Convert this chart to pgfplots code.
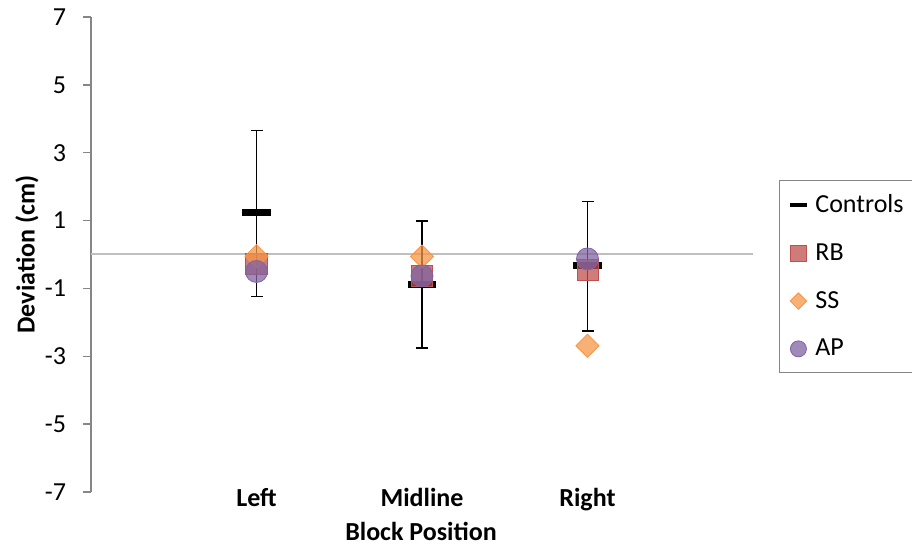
\documentclass[border=0pt]{standalone}
\usepackage{pgfplots}
\pgfplotsset{compat=1.18}
\usepackage{fontspec}
\setmainfont{Carlito}
\definecolor{rbc}{HTML}{C0504D}
\definecolor{ssc}{HTML}{F79646}
\definecolor{apc}{HTML}{8064A2}
\definecolor{axc}{RGB}{134,134,134}
\newcommand{\fs}{\fontsize{13}{15.6}\selectfont}
\newcommand{\lent}[1]{\hspace*{1pt}#1}
\begin{document}
\begin{tikzpicture}
\useasboundingbox (-45.5pt,-28pt) rectangle (410.5pt,246pt);
\begin{axis}[
 at={(0,0)}, anchor=south west,
 scale only axis, width=331pt, height=237.5pt,
 xmin=0, xmax=4, ymin=-7, ymax=7,
 axis x line*=bottom, axis y line*=left,
 x axis line style={draw=none},
 y axis line style={draw=axc, line width=0.75pt},
 xtick={1,2,3}, xticklabels={Left,Midline,Right},
 x tick label style={font=\fs\bfseries, anchor=base, inner sep=0pt, yshift=-3.25pt},
 major x tick style={draw=none},
 ytick={-7,-5,-3,-1,1,3,5,7}, yticklabels={-7,-5,-3,-1,1,3,5,7},
 y tick label style={font=\fs, anchor=east, inner sep=0pt, xshift=-8.5pt},
 tick align=outside, major tick length=3.75pt,
 major y tick style={draw=axc, line width=0.75pt},
 xlabel={Block Position},
 xlabel style={at={(axis description cs:0.4985,0)}, anchor=base, yshift=-24pt, font=\fs\bfseries, inner sep=0pt},
 ylabel={Deviation (cm)},
 ylabel style={at={(axis description cs:-0.0967,0.5)}, anchor=center, font=\fs\bfseries, inner sep=0pt},
 legend style={at={(axis description cs:1.0393,0.6568)}, anchor=north west, draw=axc, font=\fs, row sep=10pt, inner xsep=4pt, inner ysep=5pt},
 legend cell align=left,
 clip=false,
]
\addplot[forget plot, draw=gray!50, line width=1pt] coordinates {(0,0) (4,0)};
\addplot[only marks, mark=-, mark size=7.2pt, mark options={black, line width=3.5pt},
  legend image code/.code={\draw[black, line width=2.2pt] (0pt,0pt) -- (8.8pt,0pt); \path[draw=none] (0pt,-4.4pt) (8.8pt,4.4pt);},
  error bars/.cd, y dir=both, y explicit,
  error bar style={black, line width=0.8pt},
  error mark options={black, line width=0.8pt, mark size=3pt, rotate=90}]
  table[x=x, y=y, y error plus=ep, y error minus=em] {
x y ep em
1 1.23 2.43 2.47
2 -0.88 1.87 1.88
3 -0.31 1.87 1.95
};
\addlegendentry{\lent{Controls}}
\addplot[only marks, mark=square*, mark size=5.3pt, draw=rbc, fill=rbc, fill opacity=0.75,
  legend image code/.code={\draw[rbc, fill=rbc, fill opacity=0.75] (0.3pt,-4.2pt) rectangle (8.5pt,4.2pt);}]
  coordinates {(1,-0.28) (2,-0.64) (3,-0.46)};
\addlegendentry{\lent{RB}}
\addplot[only marks, mark=square*, mark size=4.07pt, draw=ssc, fill=ssc, fill opacity=0.75, mark options={rotate=45},
  legend image code/.code={\fill[ssc, fill opacity=0.75] (4.4pt,-4.1pt) -- (8.5pt,0pt) -- (4.4pt,4.1pt) -- (0.3pt,0pt) -- cycle; \path[draw=none] (0pt,0pt) (8.8pt,0pt);}]
  coordinates {(1,-0.05) (2,-0.06) (3,-2.69)};
\addlegendentry{\lent{SS}}
\addplot[only marks, mark=*, mark size=5.5pt, draw=apc, fill=apc, fill opacity=0.75,
  legend image code/.code={\draw[apc, fill=apc, fill opacity=0.75] (4.4pt,0pt) circle (4pt); \path[draw=none] (0pt,0pt) (8.8pt,0pt);}]
  coordinates {(1,-0.5) (2,-0.63) (3,-0.13)};
\addlegendentry{\lent{AP}}
\end{axis}
\end{tikzpicture}
\end{document}
